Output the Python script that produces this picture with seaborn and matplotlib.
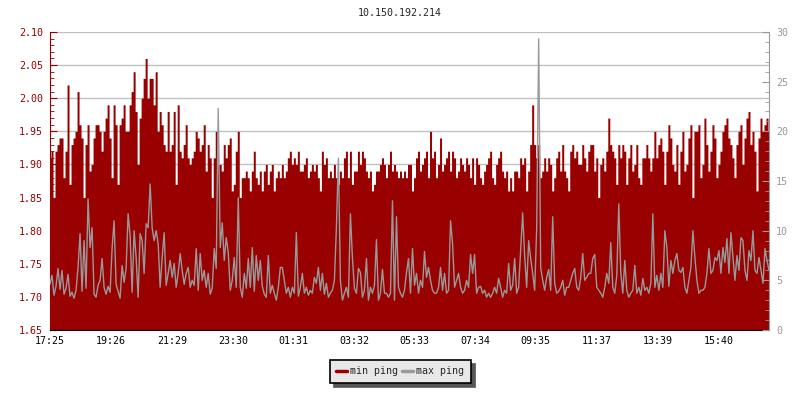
import numpy as np
import seaborn as sns
import matplotlib
matplotlib.use("Agg")
import matplotlib.pyplot as plt
from matplotlib.lines import Line2D
from matplotlib.ticker import MultipleLocator, FormatStrFormatter

# ping samples, one every 4 minutes starting at 17:25
host = "10.150.192.214"
start_time = "17:25"
step_min = 4

# min ping (left axis)
min_ping = [
    1.91, 1.92, 1.85, 1.92, 1.93, 1.94, 1.94, 1.88, 1.92, 2.02, 1.87, 1.93,
    1.94, 1.95, 2.01, 1.96, 1.94, 1.85, 1.93, 1.96, 1.89, 1.90, 1.94, 1.96,
    1.96, 1.95, 1.92, 1.95, 1.97, 1.99, 1.94, 1.88, 1.99, 1.96, 1.87, 1.96,
    1.97, 1.99, 1.95, 1.95, 1.99, 2.01, 2.04, 1.98, 1.90, 1.97, 2.00, 2.03,
    2.06, 2.00, 2.03, 2.03, 1.99, 2.04, 1.95, 1.98, 1.96, 1.93, 1.92, 1.98,
    1.92, 1.93, 1.98, 1.87, 1.99, 1.92, 1.91, 1.93, 1.96, 1.91, 1.90, 1.91,
    1.92, 1.95, 1.94, 1.92, 1.93, 1.96, 1.89, 1.93, 1.91, 1.85, 1.91, 1.95,
    1.90, 1.90, 1.89, 1.93, 1.91, 1.93, 1.94, 1.86, 1.87, 1.92, 1.95, 1.85,
    1.88, 1.88, 1.89, 1.88, 1.86, 1.89, 1.92, 1.88, 1.87, 1.89, 1.86, 1.89,
    1.90, 1.87, 1.89, 1.90, 1.86, 1.88, 1.89, 1.88, 1.90, 1.88, 1.89, 1.91,
    1.92, 1.90, 1.91, 1.90, 1.92, 1.89, 1.89, 1.90, 1.91, 1.88, 1.89, 1.90,
    1.89, 1.90, 1.88, 1.86, 1.92, 1.90, 1.91, 1.88, 1.89, 1.88, 1.90, 1.88,
    1.87, 1.89, 1.88, 1.91, 1.92, 1.88, 1.92, 1.87, 1.89, 1.89, 1.92, 1.90,
    1.92, 1.91, 1.89, 1.88, 1.89, 1.86, 1.87, 1.89, 1.89, 1.90, 1.91, 1.90,
    1.88, 1.90, 1.92, 1.89, 1.90, 1.89, 1.88, 1.89, 1.88, 1.89, 1.88, 1.90,
    1.90, 1.86, 1.88, 1.91, 1.92, 1.89, 1.90, 1.91, 1.92, 1.88, 1.95, 1.91,
    1.92, 1.88, 1.90, 1.94, 1.89, 1.90, 1.91, 1.92, 1.89, 1.92, 1.91, 1.88,
    1.89, 1.91, 1.90, 1.89, 1.91, 1.90, 1.88, 1.91, 1.87, 1.91, 1.90, 1.88,
    1.87, 1.89, 1.90, 1.91, 1.92, 1.88, 1.87, 1.90, 1.91, 1.92, 1.89, 1.88,
    1.89, 1.86, 1.88, 1.86, 1.89, 1.89, 1.88, 1.91, 1.90, 1.91, 1.86, 1.89,
    1.93, 1.99, 1.93, 1.91, 1.93, 1.88, 1.89, 1.91, 1.89, 1.91, 1.90, 1.86,
    1.88, 1.91, 1.92, 1.89, 1.93, 1.89, 1.88, 1.86, 1.92, 1.93, 1.91, 1.92,
    1.90, 1.90, 1.93, 1.91, 1.89, 1.92, 1.93, 1.93, 1.89, 1.91, 1.85, 1.90,
    1.91, 1.89, 1.92, 1.97, 1.93, 1.92, 1.91, 1.87, 1.93, 1.91, 1.93, 1.92,
    1.87, 1.91, 1.93, 1.89, 1.90, 1.93, 1.88, 1.87, 1.91, 1.91, 1.93, 1.91,
    1.89, 1.91, 1.95, 1.91, 1.93, 1.94, 1.92, 1.87, 1.92, 1.96, 1.94, 1.90,
    1.89, 1.93, 1.87, 1.92, 1.95, 1.89, 1.90, 1.94, 1.96, 1.85, 1.95, 1.95,
    1.96, 1.88, 1.90, 1.97, 1.93, 1.89, 1.92, 1.96, 1.94, 1.88, 1.90, 1.92,
    1.95, 1.96, 1.97, 1.94, 1.93, 1.91, 1.88, 1.93, 1.95, 1.96, 1.90, 1.94,
    1.97, 1.98, 1.93, 1.95, 1.92, 1.86, 1.94, 1.97, 1.95, 1.96, 1.97, 1.95,
]

# max ping (right axis)
max_ping = [
    4.6, 5.5, 3.5, 4.4, 6.2, 4.1, 6.0, 3.6, 4.2, 5.6, 3.4, 3.8,
    3.2, 4.0, 6.3, 9.7, 3.9, 9.0, 4.2, 13.2, 8.3, 10.3, 3.6, 3.3,
    4.5, 5.0, 7.2, 4.3, 3.6, 4.4, 3.8, 8.2, 11.0, 4.6, 3.9, 3.2,
    6.5, 4.8, 6.2, 11.7, 9.5, 3.8, 10.0, 7.3, 3.3, 9.7, 9.0, 5.7,
    10.7, 10.3, 14.7, 10.3, 9.0, 10.0, 8.7, 4.3, 7.3, 9.8, 4.5, 5.7,
    7.0, 5.3, 6.7, 4.3, 5.7, 7.7, 6.0, 4.6, 5.7, 6.3, 4.3, 5.0,
    4.5, 8.2, 4.0, 7.7, 5.0, 6.0, 4.3, 5.7, 3.6, 4.2, 8.2, 6.2,
    22.3, 8.3, 10.8, 7.0, 9.3, 7.8, 4.0, 5.0, 7.3, 4.3, 13.3, 4.3,
    3.3, 5.7, 4.2, 7.2, 4.3, 8.3, 3.9, 7.5, 5.0, 7.0, 4.4, 3.6,
    3.3, 7.5, 3.7, 4.5, 3.7, 3.0, 4.3, 6.3, 6.3, 5.0, 3.7, 4.3,
    3.3, 4.3, 3.7, 9.8, 3.4, 4.3, 5.7, 3.7, 4.3, 3.5, 4.0, 3.7,
    5.3, 4.7, 6.3, 4.0, 5.7, 3.6, 4.7, 3.3, 3.7, 4.0, 5.0, 10.3,
    17.3, 5.0, 3.0, 3.7, 4.3, 3.3, 11.7, 7.3, 4.2, 3.7, 6.2, 5.8,
    3.3, 4.0, 7.2, 3.0, 4.3, 3.7, 4.5, 9.1, 3.0, 3.7, 6.1, 3.7,
    3.7, 3.3, 3.7, 13.0, 3.0, 11.4, 4.3, 3.7, 3.3, 4.0, 5.8, 7.2,
    3.7, 8.2, 4.5, 5.7, 3.7, 5.0, 4.3, 7.9, 5.3, 6.3, 5.0, 4.0,
    3.7, 3.7, 4.3, 6.3, 4.0, 5.7, 3.7, 4.0, 11.0, 8.7, 4.3, 5.0,
    5.7, 4.3, 3.7, 4.0, 5.0, 4.3, 7.6, 5.7, 7.6, 3.7, 4.3, 4.4,
    3.7, 4.0, 3.3, 3.7, 3.3, 3.7, 4.3, 3.7, 5.2, 4.3, 3.3, 4.0,
    3.7, 6.7, 4.0, 4.5, 7.2, 3.7, 4.3, 8.1, 11.8, 7.4, 4.3, 9.0,
    7.2, 5.7, 4.0, 10.2, 29.3, 6.3, 5.0, 4.0, 5.3, 6.1, 4.0, 11.4,
    4.7, 3.7, 3.9, 4.3, 5.0, 3.5, 4.3, 4.3, 5.0, 5.7, 6.2, 4.3,
    4.0, 5.3, 7.7, 5.0, 5.3, 5.7, 5.7, 7.2, 7.6, 4.3, 4.0, 3.7,
    3.3, 4.3, 5.7, 4.7, 8.8, 4.3, 3.7, 5.5, 12.7, 5.7, 3.7, 7.0,
    4.0, 3.3, 3.7, 4.0, 6.5, 3.7, 4.3, 3.5, 5.2, 4.0, 4.3, 3.7,
    4.7, 11.7, 4.3, 5.5, 4.0, 5.7, 4.3, 10.0, 8.3, 4.4, 7.0, 5.7,
    7.0, 7.7, 6.0, 5.8, 6.3, 4.3, 3.7, 5.0, 6.3, 10.0, 7.3, 5.0,
    3.7, 4.0, 4.0, 4.3, 5.7, 8.2, 5.7, 6.0, 7.3, 7.0, 8.0, 5.7,
    8.3, 6.8, 9.2, 5.7, 9.8, 7.3, 5.0, 7.5, 6.0, 9.3, 9.0, 6.0,
    5.0, 8.0, 7.0, 10.0, 6.0, 5.7, 7.3, 6.0, 4.7, 8.2, 7.0, 6.0,
]

tick_labels = ["17:25", "19:26", "21:29", "23:30", "01:31", "03:32",
               "05:33", "07:34", "09:35", "11:37", "13:39", "15:40"]

red = "#990000"
grey = "#999999"

sns.set_style("white")
plt.rcParams["font.family"] = ["DejaVu Sans Mono"]
plt.rcParams["font.size"] = 7.2


def minutes_since_start(label):
    h, m = map(int, label.split(":"))
    h0, m0 = map(int, start_time.split(":"))
    return ((h * 60 + m) - (h0 * 60 + m0)) % 1440


x = np.arange(len(min_ping)) * step_min
tick_pos = [minutes_since_start(t) for t in tick_labels]

fig = plt.figure(figsize=(8, 4), dpi=100)
ax = fig.add_axes([50 / 800, 70 / 400, 719 / 800, 298 / 400])

# min ping as a filled area
ax.fill_between(x, 1.65, min_ping, step="mid", color=red, lw=0, zorder=2)
ax.set_ylim(1.65, 2.10)
ax.set_xlim(0, x[-1])
ax.yaxis.set_major_locator(MultipleLocator(0.05))
ax.yaxis.set_minor_locator(MultipleLocator(0.01))
ax.yaxis.set_major_formatter(FormatStrFormatter("%.2f"))
ax.set_xticks(tick_pos)
ax.set_xticklabels(tick_labels)
ax.set_axisbelow(True)
ax.yaxis.grid(True, color="#c0c0c0", lw=1)
ax.xaxis.grid(False)
ax.tick_params(axis="y", which="both", direction="in", colors=red, pad=5)
ax.tick_params(axis="y", which="major", length=5)
ax.tick_params(axis="y", which="minor", length=3)
ax.tick_params(axis="x", direction="in", length=5, color="black", pad=4, labelcolor="black")
ax.spines["left"].set_color(red)
ax.spines["bottom"].set_color("black")
ax.spines["top"].set_visible(False)
ax.spines["right"].set_visible(False)

# max ping on the right axis
ax2 = ax.twinx()
sns.lineplot(x=x, y=max_ping, ax=ax2, color=grey, linewidth=1.0, estimator=None)
ax2.set_ylim(0, 30)
ax2.yaxis.set_major_locator(MultipleLocator(5))
ax2.yaxis.set_minor_locator(MultipleLocator(1))
ax2.tick_params(axis="y", which="both", direction="in", colors=grey, pad=5)
ax2.tick_params(axis="y", which="major", length=5)
ax2.tick_params(axis="y", which="minor", length=3)
ax2.spines["right"].set_color(grey)
for s in ["left", "top", "bottom"]:
    ax2.spines[s].set_visible(False)
ax2.set_xlim(0, x[-1])

fig.text(0.5, 1 - 13 / 400, host, ha="center", va="center", fontsize=7.2)

handles = [Line2D([0], [0], color=red, lw=2.5), Line2D([0], [0], color=grey, lw=2.5)]
leg = fig.legend(handles, ["min ping", "max ping"], loc="center",
                 bbox_to_anchor=(0.5, 1 - 371 / 400), ncol=2, fancybox=False,
                 framealpha=1, handlelength=1.1, handletextpad=0.3,
                 columnspacing=0.4, borderpad=0.65, borderaxespad=0,
                 shadow={"ox": 3, "oy": -3, "color": "#555555", "alpha": 1.0})
leg.get_frame().set_edgecolor("black")
leg.get_frame().set_facecolor("#e8e8e8")
leg.get_frame().set_linewidth(1.2)

fig.savefig("out.png", dpi=100)
